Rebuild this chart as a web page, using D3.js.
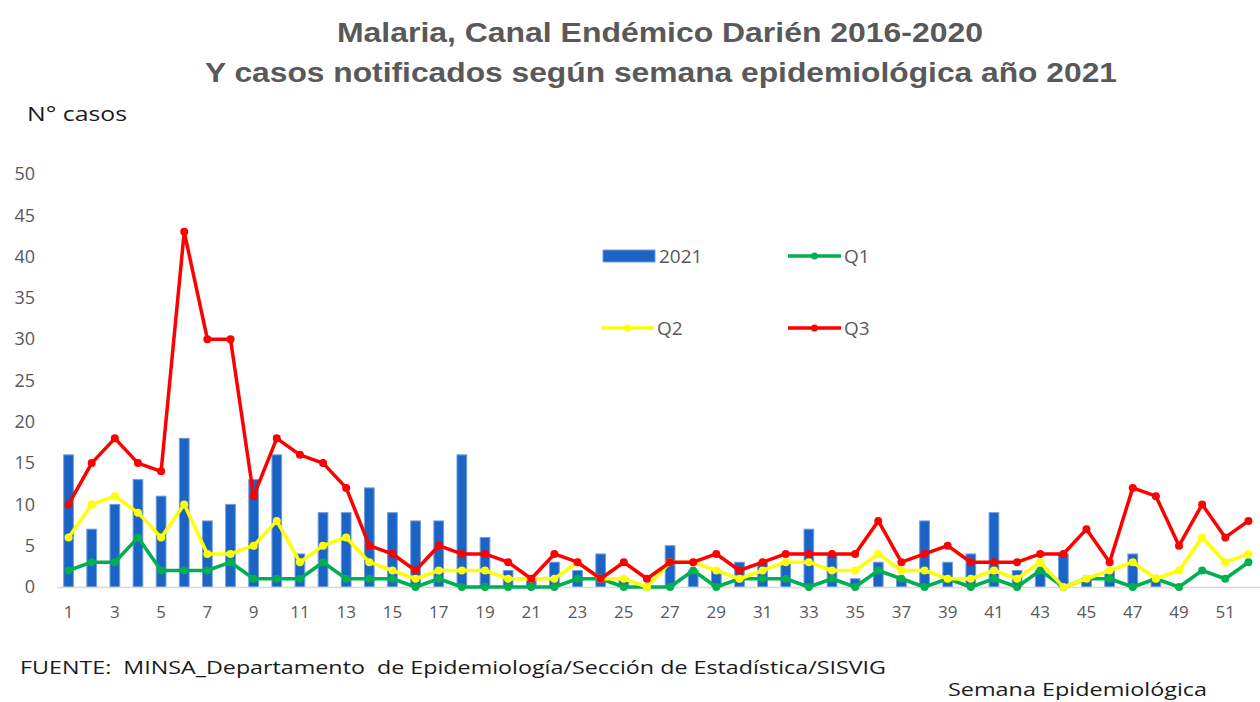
<!DOCTYPE html>
<html>
<head>
<meta charset="utf-8">
<script src="https://cdn.jsdelivr.net/npm/d3@7"></script>
<style>
  body { margin: 0; background: #fff; }
  svg { display: block; }
</style>
</head>
<body>
<div id="chart"></div>
<script>
const weeks = d3.range(1, 53);
const cases2021 = [16, 7, 10, 13, 11, 18, 8, 10, 13, 16, 4, 9, 9, 12, 9, 8, 8, 16, 6, 2,
  1, 3, 2, 4, 1, 0, 5, 2, 2, 3, 3, 3, 7, 4, 1, 3, 1, 8, 3, 4,
  9, 2, 2, 4, 1, 2, 4, 1, 0, 0, 0, 0];
const q1 = [2, 3, 3, 6, 2, 2, 2, 3, 1, 1, 1, 3, 1, 1, 1, 0, 1, 0, 0, 0,
  0, 0, 1, 1, 0, 0, 0, 2, 0, 1, 1, 1, 0, 1, 0, 2, 1, 0, 1, 0,
  1, 0, 2, 0, 1, 1, 0, 1, 0, 2, 1, 3];
const q2 = [6, 10, 11, 9, 6, 10, 4, 4, 5, 8, 3, 5, 6, 3, 2, 1, 2, 2, 2, 1,
  1, 1, 3, 1, 1, 0, 3, 3, 2, 1, 2, 3, 3, 2, 2, 4, 2, 2, 1, 1,
  2, 1, 3, 0, 1, 2, 3, 1, 2, 6, 3, 4];
const q3 = [10, 15, 18, 15, 14, 43, 30, 30, 11, 18, 16, 15, 12, 5, 4, 2, 5, 4, 4, 3,
  1, 4, 3, 1, 3, 1, 3, 3, 4, 2, 3, 4, 4, 4, 4, 8, 3, 4, 5, 3,
  3, 3, 4, 4, 7, 3, 12, 11, 5, 10, 6, 8];
const yTicks = [0, 5, 10, 15, 20, 25, 30, 35, 40, 45, 50];

const width = 1260, height = 702;
const grey = "#595959";

const svg = d3.select("#chart").append("svg")
  .attr("width", width)
  .attr("height", height);

// title
const title = svg.append("g")
  .style("font-family", "'Liberation Sans', Arial, sans-serif")
  .style("font-weight", "bold")
  .style("font-size", "28px")
  .attr("fill", grey)
  .attr("text-anchor", "middle");
title.append("text").attr("x", 660).attr("y", 42)
  .attr("textLength", 646).attr("lengthAdjust", "spacingAndGlyphs")
  .text("Malaria, Canal Endémico Darién 2016-2020");
title.append("text").attr("x", 661).attr("y", 82)
  .attr("textLength", 912).attr("lengthAdjust", "spacingAndGlyphs")
  .text("Y casos notificados según semana epidemiológica año 2021");

svg.append("text")
  .attr("x", 27).attr("y", 121)
  .style("font-family", "'Open Sans', sans-serif")
  .style("font-size", "20px")
  .attr("fill", "#1a1a1a")
  .attr("textLength", 100).attr("lengthAdjust", "spacingAndGlyphs")
  .text("N° casos");

// scales
const x = d3.scaleBand().domain(weeks).range([57, 1260]).paddingInner(0.58).paddingOuter(0.29);
const xc = d => x(d) + x.bandwidth() / 2;
const y = d3.scaleLinear().domain([0, 50]).range([587, 174]);

// y axis
const yAxis = svg.append("g")
  .attr("transform", "translate(35,0)")
  .call(d3.axisLeft(y).tickValues(yTicks).tickSize(0).tickPadding(0));
yAxis.select(".domain").remove();
yAxis.selectAll("text")
  .style("font-family", "'Open Sans', sans-serif")
  .style("font-size", "18px")
  .attr("fill", grey);

// bars
svg.append("g").selectAll("rect")
  .data(weeks)
  .join("rect")
  .attr("x", d => x(d))
  .attr("y", (d, i) => y(cases2021[i]))
  .attr("width", x.bandwidth())
  .attr("height", (d, i) => y(0) - y(cases2021[i]))
  .attr("fill", "#1b63c4")
  .attr("stroke", "#6f9fdc")
  .attr("stroke-width", 1);

// x axis
const xAxis = svg.append("g")
  .attr("transform", `translate(0,${y(0)})`)
  .call(d3.axisBottom(x).tickValues(weeks.filter(w => w % 2 === 1)).tickSize(0).tickPadding(19));
xAxis.select(".domain").attr("stroke", "#d9d9d9").attr("stroke-width", 1.5);
xAxis.selectAll("text")
  .style("font-family", "'Open Sans', sans-serif")
  .style("font-size", "17px")
  .attr("fill", grey);

// lines
const seriesList = [
  { name: "Q1", values: q1, color: "#00b050" },
  { name: "Q2", values: q2, color: "#ffff00" },
  { name: "Q3", values: q3, color: "#ff0000" }
];
const line = d3.line().x(d => xc(d.w)).y(d => y(d.v));

seriesList.forEach(s => {
  const pts = weeks.map((w, i) => ({ w, v: s.values[i] }));
  const g = svg.append("g");
  g.append("path")
    .datum(pts)
    .attr("d", line)
    .attr("fill", "none")
    .attr("stroke", s.color)
    .attr("stroke-width", 3.5)
    .attr("stroke-linejoin", "round");
  g.selectAll("circle")
    .data(pts)
    .join("circle")
    .attr("cx", d => xc(d.w))
    .attr("cy", d => y(d.v))
    .attr("r", 4)
    .attr("fill", s.color);
});

// legend
const legend = svg.append("g")
  .style("font-family", "'Open Sans', sans-serif")
  .style("font-size", "19px")
  .attr("fill", grey);
const legendItems = [
  { name: "2021", type: "bar", color: "#1b63c4", lx: 603, ly: 256 },
  { name: "Q1", type: "line", color: "#00b050", lx: 788, ly: 256 },
  { name: "Q2", type: "line", color: "#ffff00", lx: 601, ly: 328 },
  { name: "Q3", type: "line", color: "#ff0000", lx: 788, ly: 328 }
];
legendItems.forEach(it => {
  if (it.type === "bar") {
    legend.append("rect")
      .attr("x", it.lx).attr("y", it.ly - 6)
      .attr("width", 52).attr("height", 12)
      .attr("fill", it.color).attr("stroke", "#6f9fdc");
  } else {
    legend.append("line")
      .attr("x1", it.lx).attr("x2", it.lx + 53)
      .attr("y1", it.ly).attr("y2", it.ly)
      .attr("stroke", it.color).attr("stroke-width", 3.5);
    legend.append("circle")
      .attr("cx", it.lx + 26.5).attr("cy", it.ly).attr("r", 3.5)
      .attr("fill", it.color);
  }
  legend.append("text")
    .attr("x", it.lx + 56).attr("y", it.ly)
    .attr("dy", "0.35em")
    .text(it.name);
});

// footer
svg.append("text")
  .attr("x", 20).attr("y", 674)
  .style("font-family", "'Open Sans', sans-serif")
  .style("font-size", "18px")
  .attr("fill", "#1a1a1a")
  .attr("textLength", 866).attr("lengthAdjust", "spacingAndGlyphs")
  .attr("xml:space", "preserve")
  .text("FUENTE:  MINSA_Departamento  de Epidemiología/Sección de Estadística/SISVIG");

svg.append("text")
  .attr("x", 948).attr("y", 696)
  .style("font-family", "'Open Sans', sans-serif")
  .style("font-size", "18px")
  .attr("fill", "#1a1a1a")
  .attr("textLength", 259).attr("lengthAdjust", "spacingAndGlyphs")
  .text("Semana Epidemiológica");
</script>
</body>
</html>
